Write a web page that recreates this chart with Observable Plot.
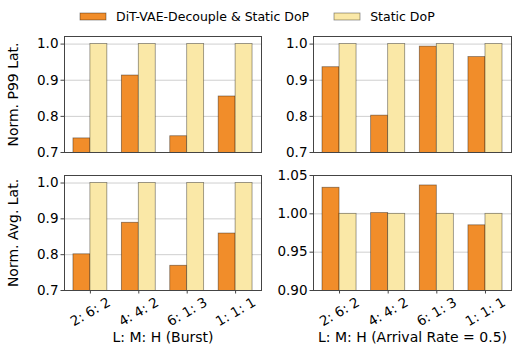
<!DOCTYPE html>
<html>
<head>
<meta charset="utf-8">
<script src="https://cdn.jsdelivr.net/npm/d3@7"></script>
<script src="https://cdn.jsdelivr.net/npm/@observablehq/plot@0.6"></script>
<style>
  html, body { margin: 0; padding: 0; background: #fff; }
  #wrap { position: relative; width: 518px; height: 354px; overflow: hidden; background: #fff; font-family: "DejaVu Sans", sans-serif; }
  #wrap > .pan { position: absolute; }
  #legend { position: absolute; left: 80px; top: 0px; }
  .lg-swatches { font-family: "DejaVu Sans", sans-serif !important; font-size: 12.5px !important; color: #000; margin: 0 !important; }
  .lg-swatch { margin-right: 25px !important; }
  .lg-swatch > svg { margin-right: 10px !important; }
  .lg-swatch rect { stroke: #000; stroke-opacity: 0.45; stroke-width: 0.8px; }
</style>
</head>
<body>
<div id="wrap"><div id="legend"></div></div>
<script>
// ---- data ----
const categories = ["2: 6: 2", "4: 4: 2", "6: 1: 3", "1: 1: 1"];
const seriesNames = ["DiT-VAE-Decouple & Static DoP", "Static DoP"];
const seriesColors = ["#F18D2A", "#FAE8A7"];

const burstP99Decouple = [0.739, 0.913, 0.745, 0.855];
const burstP99Static   = [1.0, 1.0, 1.0, 1.0];
const rateP99Decouple  = [0.936, 0.802, 0.993, 0.964];
const rateP99Static    = [1.0, 1.0, 1.0, 1.0];
const burstAvgDecouple = [0.801, 0.889, 0.769, 0.859];
const burstAvgStatic   = [1.0, 1.0, 1.0, 1.0];
const rateAvgDecouple  = [1.034, 1.001, 1.037, 0.985];
const rateAvgStatic    = [1.0, 1.0, 1.0, 1.0];

const ticksLatency = [0.7, 0.8, 0.9, 1.0];
const ticksRateAvg = [0.90, 0.95, 1.00, 1.05];

const yLabels = ["Norm. P99 Lat.", "Norm. Avg. Lat."];
const xLabels = ["L: M: H (Burst)", "L: M: H (Arrival Rate = 0.5)"];

// ---- drawing ----
const barW = 0.35;
const wrap = document.getElementById("wrap");

function panel({dec, stat, domain, ticks, fmt, ylabel, xlabel, left, top, width, height, mL, mR, mT, mB}) {
  const marks = [
    Plot.gridY({ticks, stroke: "#cfcfcf", strokeOpacity: 1, strokeWidth: 1}),
    Plot.rectY(dec, {x1: (d, i) => i - barW, x2: (d, i) => i, y1: () => 0, y2: d => d,
      fill: seriesColors[0], stroke: "#000", strokeOpacity: 0.45, strokeWidth: 0.8, clip: true}),
    Plot.rectY(stat, {x1: (d, i) => i, x2: (d, i) => i + barW, y1: () => 0, y2: d => d,
      fill: seriesColors[1], stroke: "#000", strokeOpacity: 0.45, strokeWidth: 0.8, clip: true}),
    Plot.frame({stroke: "#444", strokeWidth: 1}),
    Plot.axisY({ticks, tickSize: 3.5, tickPadding: 2.5, tickFormat: fmt, label: null, stroke: "#444"})
  ];
  if (ylabel) {
    marks.push(Plot.text([ylabel], {text: d => d, frameAnchor: "left", dx: -50.5, rotate: -90,
      lineAnchor: "middle", textAnchor: "middle", fontSize: 14, fill: "#000"}));
  }
  if (xlabel) {
    marks.push(Plot.axisX({ticks: [0, 1, 2, 3], tickFormat: i => categories[i], tickSize: 3.5,
      tickPadding: 18, tickRotate: -30, textAnchor: "middle", lineAnchor: "middle", label: null, stroke: "#444"}));
    marks.push(Plot.text([xlabel], {text: d => d, frameAnchor: "bottom", dy: 47.5,
      lineAnchor: "middle", textAnchor: "middle", fontSize: 14, fill: "#000"}));
  }
  const svg = Plot.plot({
    width, height,
    marginLeft: mL, marginRight: mR, marginTop: mT, marginBottom: mB,
    style: {fontFamily: "DejaVu Sans", fontSize: "13.5px", color: "#000", background: "transparent", overflow: "visible"},
    x: {type: "linear", domain: [-0.535, 3.535], axis: null},
    y: {domain, axis: null},
    marks
  });
  svg.classList.add("pan");
  svg.style.left = left + "px";
  svg.style.top = top + "px";
  wrap.appendChild(svg);
}

const L = {left: 0, width: 262, mL: 64, mR: 1};
const R = {left: 262, width: 256, mL: 51, mR: 7};
const T = {top: 28, height: 128, mT: 8, mB: 4};
const B = {top: 156, height: 198, mT: 19, mB: 64};

panel({dec: burstP99Decouple, stat: burstP99Static, domain: [0.7, 1.021], ticks: ticksLatency, fmt: ".1f",
  ylabel: yLabels[0], ...L, ...T});
panel({dec: rateP99Decouple, stat: rateP99Static, domain: [0.7, 1.021], ticks: ticksLatency, fmt: ".1f",
  ...R, ...T});
panel({dec: burstAvgDecouple, stat: burstAvgStatic, domain: [0.7, 1.021], ticks: ticksLatency, fmt: ".1f",
  ylabel: yLabels[1], xlabel: xLabels[0], ...L, ...B});
panel({dec: rateAvgDecouple, stat: rateAvgStatic, domain: [0.9, 1.05], ticks: ticksRateAvg, fmt: ".2f",
  xlabel: xLabels[1], ...R, ...B});

const legend = Plot.legend({
  color: {type: "ordinal", domain: seriesNames, range: seriesColors},
  swatchWidth: 26, swatchHeight: 7, className: "lg"
});
document.getElementById("legend").appendChild(legend);
</script>
</body>
</html>
